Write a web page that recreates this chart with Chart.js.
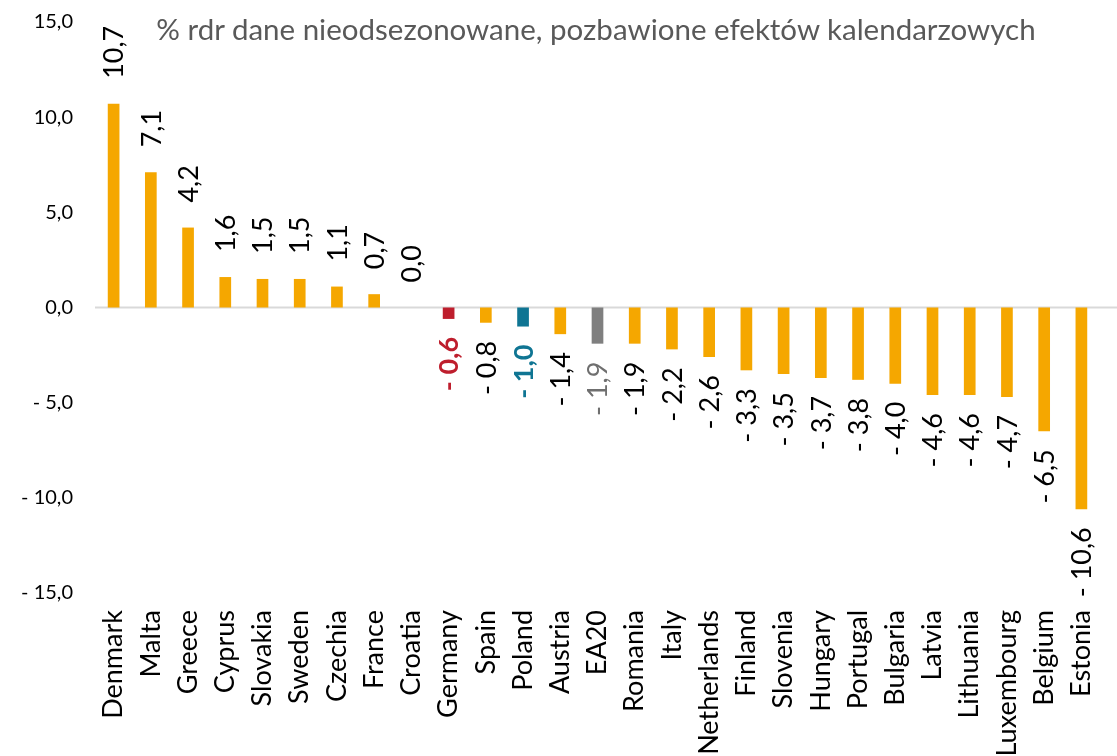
<!DOCTYPE html>
<html>
<head>
<meta charset="utf-8">
<script src="https://cdn.jsdelivr.net/npm/chart.js@4.4.1/dist/chart.umd.min.js"></script>
<style>
  html, body { margin: 0; padding: 0; background: #fff; }
  #wrap { position: relative; width: 1117px; height: 756px; overflow: hidden; }
  #subtitle {
    position: absolute; left: 0; width: 1192px; top: 11px; text-align: center;
    font-family: Lato, sans-serif; font-size: 29.5px; color: #595959; white-space: nowrap;
  }
</style>
</head>
<body>
<div id="wrap">
  <canvas id="chart" width="1117" height="756"></canvas>
  <div id="subtitle">% rdr dane nieodsezonowane, pozbawione efektów kalendarzowych</div>
</div>
<script>
const countries = ["Denmark", "Malta", "Greece", "Cyprus", "Slovakia", "Sweden", "Czechia", "France", "Croatia",
  "Germany", "Spain", "Poland", "Austria", "EA20", "Romania", "Italy", "Netherlands", "Finland", "Slovenia",
  "Hungary", "Portugal", "Bulgaria", "Latvia", "Lithuania", "Luxembourg", "Belgium", "Estonia"];
const values = [10.7, 7.1, 4.2, 1.6, 1.5, 1.5, 1.1, 0.7, 0.0,
  -0.6, -0.8, -1.0, -1.4, -1.9, -1.9, -2.2, -2.6, -3.3, -3.5,
  -3.7, -3.8, -4.0, -4.6, -4.6, -4.7, -6.5, -10.6];
const yTicks = [15, 10, 5, 0, -5, -10, -15];

// highlighted bars
const special = {
  Germany: { bar: "#BE1E2D", text: "#BE1E2D", bold: true },
  Poland: { bar: "#0F7593", text: "#0F7593", bold: true },
  EA20: { bar: "#7F7F7F", text: "#6F6F6F", bold: false }
};
const ORANGE = "#F5A700";

function fmt(v) {
  const s = Math.abs(v).toFixed(1).replace(".", ",");
  return v < 0 ? "- " + s : s;
}

// zero line runs to the right edge of the picture
const zeroLine = {
  id: "zeroLine",
  beforeDatasetsDraw(chart) {
    const ctx = chart.ctx;
    const y = chart.scales.y.getPixelForValue(0);
    ctx.save();
    ctx.strokeStyle = "#D9D9D9";
    ctx.lineWidth = 2;
    ctx.beginPath();
    ctx.moveTo(chart.chartArea.left, y);
    ctx.lineTo(chart.width, y);
    ctx.stroke();
    ctx.restore();
  }
};

// rotated value labels
const valueLabels = {
  id: "valueLabels",
  afterDatasetsDraw(chart) {
    const ctx = chart.ctx;
    const meta = chart.getDatasetMeta(0);
    meta.data.forEach((bar, i) => {
      const v = values[i];
      const sp = special[countries[i]];
      ctx.save();
      ctx.font = (sp && sp.bold ? "bold " : "") + "27px Lato, sans-serif";
      ctx.fillStyle = sp ? sp.text : "#000";
      ctx.textBaseline = "middle";
      if (v >= 0) {
        ctx.translate(bar.x + 1, bar.y - 25);
        ctx.rotate(-Math.PI / 2);
        ctx.textAlign = "left";
      } else {
        ctx.translate(bar.x + 1, bar.y + 18);
        ctx.rotate(-Math.PI / 2);
        ctx.textAlign = "right";
      }
      ctx.fillText(fmt(v), 0, 0);
      ctx.restore();
    });
  }
};

new Chart(document.getElementById("chart"), {
  type: "bar",
  data: {
    labels: countries,
    datasets: [{
      data: values,
      backgroundColor: countries.map(c => special[c] ? special[c].bar : ORANGE),
      barPercentage: 0.314,
      categoryPercentage: 1
    }]
  },
  options: {
    responsive: false,
    animation: false,
    layout: { padding: { top: 22, right: 17, left: 0, bottom: 0 } },
    plugins: { legend: { display: false }, tooltip: { enabled: false } },
    scales: {
      x: {
        grid: { display: false, drawTicks: false },
        border: { display: false },
        ticks: {
          color: "#000", font: { family: "Lato", size: 27 },
          maxRotation: 90, minRotation: 90, padding: 17, autoSkip: false
        },
        afterFit(scale) {
          scale.height = 163;
          scale.paddingLeft = 0;
          scale.paddingRight = 0;
        }
      },
      y: {
        min: -15, max: 15,
        afterBuildTicks(scale) { scale.ticks = yTicks.map(v => ({ value: v })); },
        grid: { display: false, drawTicks: false },
        border: { display: false },
        ticks: {
          color: "#000", font: { family: "Lato", size: 20 }, padding: 22,
          callback: v => fmt(v)
        },
        afterFit(scale) {
          scale.width = 95;
          scale.paddingTop = 0;
          scale.paddingBottom = 0;
        }
      }
    }
  },
  plugins: [zeroLine, valueLabels]
});
</script>
</body>
</html>
